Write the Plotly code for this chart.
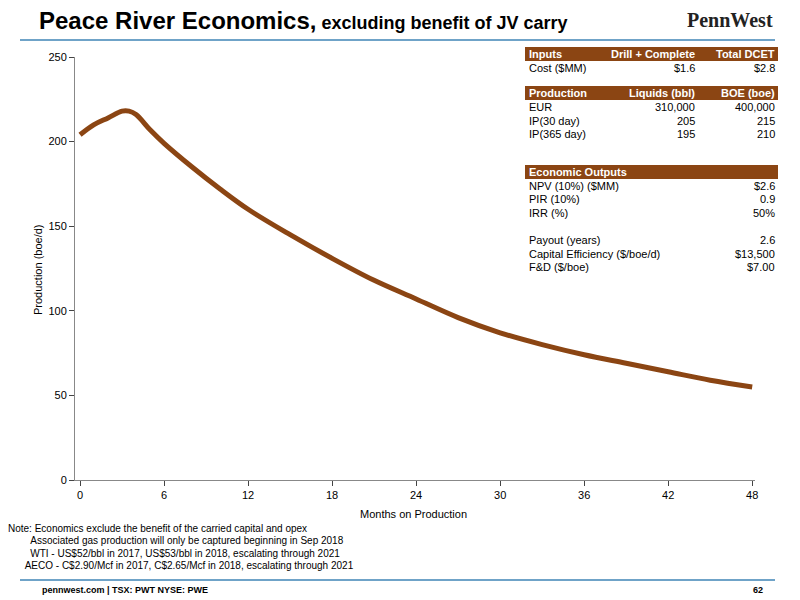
import plotly.graph_objects as go

months = [0, 1, 2, 3, 3.5, 4, 5, 6, 8, 10, 12, 15, 18, 21, 24, 27, 30, 33, 36, 39, 42, 45, 48]
production = [204, 210, 214, 218, 218, 216, 207, 199, 185, 172, 160, 145, 131, 118, 107, 96, 87, 80, 74, 69, 64, 59, 55]

inputs_rows = [("Cost ($MM)", "$1.6", "$2.8")]
prod_rows = [("EUR", "310,000", "400,000"), ("IP(30 day)", "205", "215"), ("IP(365 day)", "195", "210")]
econ_rows = [("NPV (10%) ($MM)", "$2.6"), ("PIR (10%)", "0.9"), ("IRR (%)", "50%"), ("", ""),
             ("Payout (years)", "2.6"), ("Capital Efficiency ($/boe/d)", "$13,500"), ("F&D ($/boe)", "$7.00")]
notes = ["Note: Economics exclude the benefit of the carried capital and opex",
         "        Associated gas production will only be captured beginning in Sep 2018",
         "        WTI - US$52/bbl in 2017, US$53/bbl in 2018, escalating through 2021",
         "      AECO - C$2.90/Mcf in 2017, C$2.65/Mcf in 2018, escalating through 2021"]

BROWN = "#8b4513"
W, H = 800, 600
OFF = 8  # default page margin of the html body


def px(x, y):
    return (x - OFF) / W, 1 - (y - OFF) / H


fig = go.Figure(go.Scatter(x=months, y=production, mode="lines", line=dict(color=BROWN, width=5, shape="spline")))

ann = []
shapes = []


def text(x, y, s, size=11, anchor="left", bold=False, color="black"):
    xx, yy = px(x, y)
    ann.append(dict(x=xx, y=yy, xref="paper", yref="paper", text=f"<b>{s}</b>" if bold else s, showarrow=False,
                    xanchor=anchor, yanchor="middle", font=dict(size=size, color=color)))


def bar(y0, y1):
    x0, yy0 = px(525, y0)
    x1, yy1 = px(778, y1)
    shapes.append(dict(type="rect", xref="paper", yref="paper", x0=x0, x1=x1, y0=yy1, y1=yy0,
                       fillcolor=BROWN, line=dict(width=0), layer="below"))


# header / footer rules
for yl in (40, 580):
    a, b = px(20, yl)
    c, _ = px(775, yl)
    shapes.append(dict(type="line", xref="paper", yref="paper", x0=a, x1=c, y0=b, y1=b,
                       line=dict(color="#6fa3c8", width=2)))

bar(47, 61)
text(527, 54, "Inputs", bold=True, color="white")
text(697, 54, "Drill + Complete", anchor="right", bold=True, color="white")
text(777, 54, "Total DCET", anchor="right", bold=True, color="white")
for i, (a, b, c) in enumerate(inputs_rows):
    text(527, 68 + i * 14, a)
    text(697, 68 + i * 14, b, anchor="right")
    text(777, 68 + i * 14, c, anchor="right")

bar(86, 100)
text(527, 93, "Production", bold=True, color="white")
text(697, 93, "Liquids (bbl)", anchor="right", bold=True, color="white")
text(777, 93, "BOE (boe)", anchor="right", bold=True, color="white")
for i, (a, b, c) in enumerate(prod_rows):
    text(527, 107 + i * 13.5, a)
    text(697, 107 + i * 13.5, b, anchor="right")
    text(777, 107 + i * 13.5, c, anchor="right")

bar(165, 179)
text(527, 172, "Economic Outputs", bold=True, color="white")
for i, (a, b) in enumerate(econ_rows):
    if a:
        text(527, 186 + i * 13.5, a)
        text(777, 186 + i * 13.5, b, anchor="right")

text(37, 20, "<b><span style='font-size:24px'>Peace River Economics,</span></b> <b>excluding benefit of JV carry</b>", size=18)
text(775, 20, "<b>PennWest</b>", size=20, anchor="right", color="#222")
ann[-1]["font"]["family"] = "Liberation Serif"
for i, n in enumerate(notes):
    text(6, 528 + i * 12.5, n.replace("  ", "&nbsp;&nbsp;"), size=10)
text(40, 590, "<b>pennwest.com | TSX: PWT NYSE: PWE</b>", size=9)
text(765, 590, "<b>62</b>", size=9, anchor="right")
text(414, 514, "Months on Production", size=11, anchor="center")
yt = px(30, 270)
ann.append(dict(x=yt[0], y=yt[1], xref="paper", yref="paper", text="Production (boe/d)", showarrow=False,
                textangle=-90, font=dict(size=11)))

xd0, _ = px(75, 0)
xd1, _ = px(755, 0)
_, yd0 = px(0, 480)
_, yd1 = px(0, 57)

fig.update_layout(
    width=W, height=H, margin=dict(l=0, r=0, t=0, b=0),
    paper_bgcolor="white", plot_bgcolor="white", showlegend=False,
    font=dict(family="Liberation Sans, Arial", size=11, color="black"),
    annotations=ann, shapes=shapes,
    xaxis=dict(domain=[xd0, xd1], range=[-0.36, 48.2], tickvals=list(range(0, 49, 6)), ticks="outside",
               showline=True, linecolor="#888", showgrid=False, zeroline=False, automargin=False),
    yaxis=dict(domain=[yd0, yd1], range=[0, 250], dtick=50, ticks="outside", showline=True,
               linecolor="#888", showgrid=False, zeroline=False, automargin=False),
)
fig.write_html("out.html")
